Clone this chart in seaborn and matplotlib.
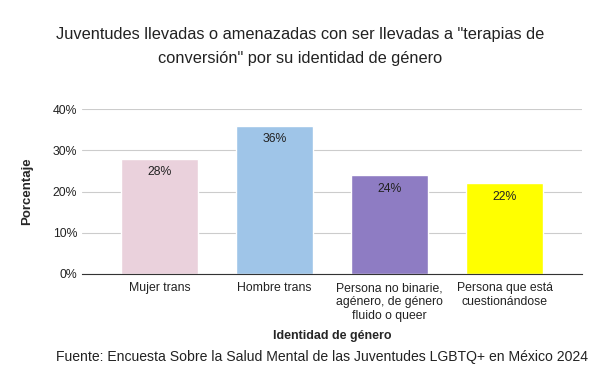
import matplotlib
matplotlib.use("Agg")
from matplotlib import pyplot as plt
from matplotlib.ticker import PercentFormatter
import pandas as pd
import seaborn as sns

categorias = ["Mujer trans", "Hombre trans",
              "Persona no binarie,\nagénero, de género\nfluido o queer",
              "Persona que está\ncuestionándose"]
porcentajes = [28, 36, 24, 22]
colores = ["#ead1dc", "#9fc5e8", "#8e7cc3", "#ffff00"]
yticks = [0, 10, 20, 30, 40]

sns.set_style("white")
plt.rcParams['font.family'] = ['Liberation Sans', 'DejaVu Sans']

df = pd.DataFrame({"Identidad": categorias, "Porcentaje": porcentajes})

fig = plt.figure(figsize=(6, 3.71), dpi=100)
ax = fig.add_axes([0.137, 0.2615, 0.833, 0.4445])

sns.barplot(data=df, x="Identidad", y="Porcentaje", hue="Identidad",
            palette=colores, saturation=1, width=0.67, legend=False, ax=ax, zorder=2)

for bar, val in zip(ax.patches, porcentajes):
    ax.annotate(f"{val}%", (bar.get_x() + bar.get_width() / 2, bar.get_height()),
                xytext=(0, -10), textcoords="offset points", ha="center",
                va="center", fontsize=8.8, color="#222222")

ax.set_ylim(0, 40)
ax.set_xlim(-0.67, 3.67)
ax.set_yticks(yticks)
ax.yaxis.set_major_formatter(PercentFormatter(decimals=0))
ax.grid(axis="y", color="#cccccc", linewidth=0.8, zorder=0)
ax.set_axisbelow(True)
sns.despine(ax=ax, left=True)
ax.spines["bottom"].set_color("#333333")
ax.tick_params(axis="both", length=0, labelsize=8.8, colors="#222222")
ax.tick_params(axis="x", pad=6)

ax.set_xlabel("Identidad de género", fontsize=9, fontweight="bold", labelpad=6)
ax.set_ylabel("Porcentaje", fontsize=9.5, fontweight="bold", labelpad=14)

fig.text(0.5, 0.875, 'Juventudes llevadas o amenazadas con ser llevadas a "terapias de\n'
         'conversión" por su identidad de género', ha="center", va="center",
         fontsize=11.8, color="#222222", linespacing=1.75)
fig.text(0.537, 0.037, "Fuente: Encuesta Sobre la Salud Mental de las Juventudes LGBTQ+ en México 2024",
         ha="center", va="center", fontsize=10.1, color="#222222")

plt.savefig("out.png", dpi=100)
plt.close()
